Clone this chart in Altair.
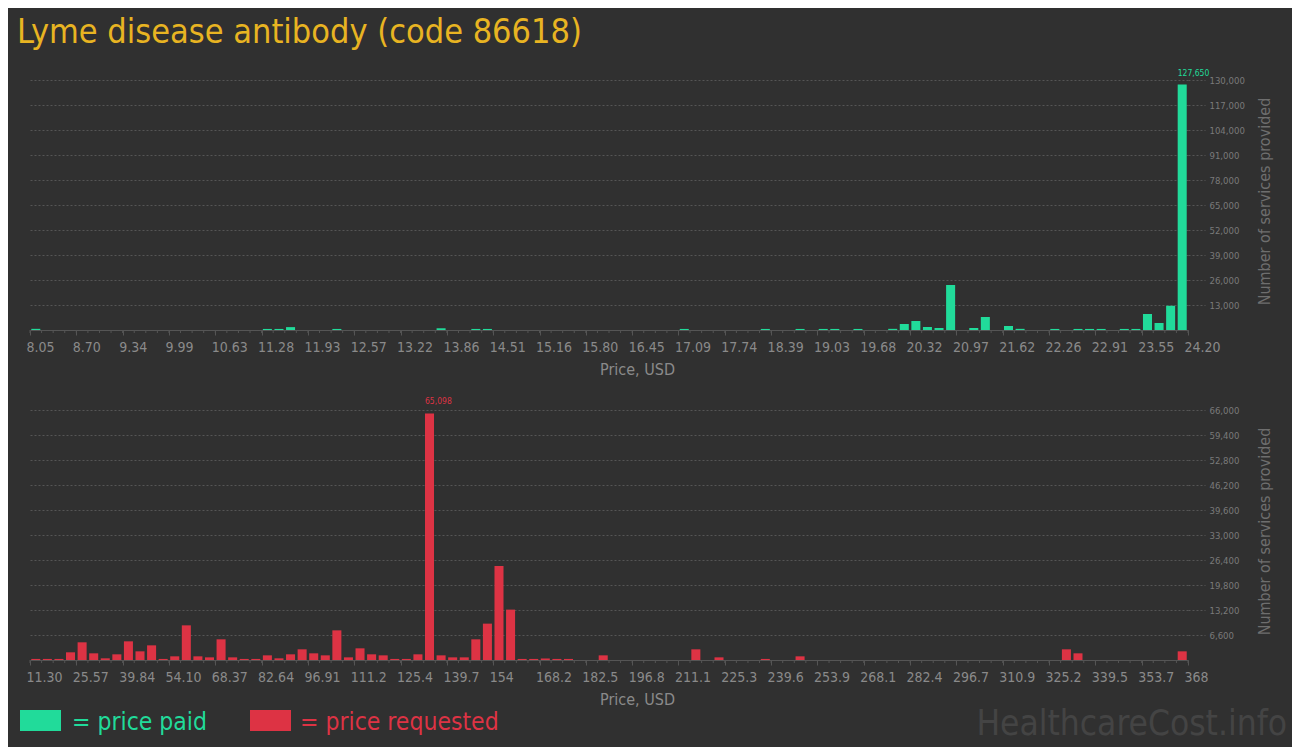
import altair as alt
import pandas as pd

TITLE = "Lyme disease antibody (code 86618)"
X_TITLE = "Price, USD"
Y_TITLE = "Number of services provided"
LEGEND_PAID = "= price paid"
LEGEND_REQ = "= price requested"
WATERMARK = "HealthcareCost.info"

# tick labels (every 4 bins; 100 bins per panel)
paid_labels = ["8.05", "8.70", "9.34", "9.99", "10.63", "11.28", "11.93", "12.57", "13.22",
               "13.86", "14.51", "15.16", "15.80", "16.45", "17.09", "17.74", "18.39",
               "19.03", "19.68", "20.32", "20.97", "21.62", "22.26", "22.91", "23.55", "24.20"]
req_labels = ["11.30", "25.57", "39.84", "54.10", "68.37", "82.64", "96.91", "111.2", "125.4",
              "139.7", "154", "168.2", "182.5", "196.8", "211.1", "225.3", "239.6", "253.9",
              "268.1", "282.4", "296.7", "310.9", "325.2", "339.5", "353.7", "368"]

# price paid histogram (bin index -> number of services)
paid_bins = [0, 20, 21, 22, 26, 35, 38, 39, 56, 63, 66, 68, 69, 71, 74, 75, 76, 77, 78, 79,
             81, 82, 84, 85, 88, 90, 91, 92, 94, 95, 96, 97, 98, 99]
paid_counts = [600, 550, 550, 1500, 550, 900, 550, 550, 550, 550, 550, 550, 550, 550, 600,
               3120, 4680, 1560, 1040, 23400, 1040, 6760, 2080, 600, 550, 550, 550, 550, 550,
               550, 8320, 3640, 12600, 127650]

# price requested histogram
req_bins = [0, 1, 2, 3, 4, 5, 6, 7, 8, 9, 10, 11, 12, 13, 14, 15, 16, 17, 18, 19, 20, 21, 22,
            23, 24, 25, 26, 27, 28, 29, 30, 31, 32, 33, 34, 35, 36, 37, 38, 39, 40, 41, 42, 43,
            44, 45, 46, 49, 57, 59, 63, 66, 89, 90, 99]
req_counts = [280, 280, 280, 2030, 4670, 1760, 440, 1500, 4930, 2290, 3870, 280, 970, 9150,
              970, 700, 5460, 700, 280, 280, 1230, 440, 1500, 2820, 1760, 1230, 7830, 700, 3080,
              1500, 1230, 280, 280, 1500, 65098, 1230, 700, 700, 5460, 9600, 24800, 13300, 280,
              280, 400, 280, 280, 1230, 2820, 700, 280, 970, 2820, 1760, 2290]

paid_ticks = [13000 * k for k in range(1, 11)]
req_ticks = [6600 * k for k in range(1, 11)]

FONT = "Liberation Sans Narrow, Arial Narrow, DejaVu Sans Condensed, sans-serif"
BG = "#303030"
GREEN = "#21db9a"
RED = "#dd3344"
GOLD = "#e8b422"
GRID = "#555555"
AXIS = "#555555"
LABEL = "#8a8a8a"
W, H = 1158, 250


def panel(bins, counts, labels, yticks, color, extras):
    n_bins = (len(labels) - 1) * 4
    df = pd.DataFrame({"bin": bins, "count": counts})
    label_arr = "[" + ",".join("'%s'" % l for l in labels) + "]"
    xscale = alt.Scale(domain=[0, n_bins], nice=False, zero=False)
    xaxis = alt.Axis(
        values=list(range(0, n_bins + 1, 4)),
        labelExpr=label_arr + "[round(datum.value / 4)]",
        title=X_TITLE, titleX=607, titleY=31, titleBaseline="top",
        titleFont=FONT, titleFontSize=16, titleFontWeight="normal", titleColor=LABEL,
        labelFont=FONT, labelFontSize=14, labelColor=LABEL,
        labelAlign="left", labelOffset=-4, labelPadding=5,
        labelOverlap=False, labelFlush=False, labelBound=False,
        tickSize=5, tickColor=AXIS, domainColor=AXIS, grid=False,
    )
    yscale = alt.Scale(domain=[0, yticks[-1]], nice=False)
    yaxis = alt.Axis(
        orient="right", values=yticks, format=",.0f",
        grid=True, gridColor=GRID, gridDash=[2, 2], domain=False,
        tickSize=17, tickColor=GRID, tickDash=[2, 2],
        labelFont=FONT, labelFontSize=9.5, labelColor="#7a7a7a", labelPadding=4,
        labelFlush=False, labelOverlap=False,
        title=Y_TITLE, titleAngle=270, titleX=76, titleY=121,
        titleBaseline="middle", titleAlign="center",
        titleFont=FONT, titleFontSize=16, titleFontWeight="normal", titleColor="#6e6e6e",
    )
    base = alt.Chart(df).transform_calculate(lo="datum.bin + 0.11", hi="datum.bin + 0.89")
    bars = base.mark_bar(color=color).encode(
        x=alt.X("lo:Q", scale=xscale, axis=xaxis),
        x2="hi:Q",
        y=alt.Y("count:Q", scale=yscale, axis=yaxis),
        y2=alt.datum(0),
    )
    peak = base.transform_joinaggregate(mx="max(count)").transform_filter(
        "datum.count == datum.mx"
    ).mark_text(align="left", baseline="alphabetic", dy=-9, font=FONT, fontSize=8.5,
                color=color).encode(
        x=alt.X("lo:Q", scale=xscale, axis=xaxis),
        y=alt.Y("count:Q", scale=yscale, axis=yaxis),
        text=alt.Text("count:Q", format=","),
    )
    minor = alt.Chart(pd.DataFrame({"t": list(range(0, n_bins + 1))})).mark_rule(
        color=AXIS
    ).encode(x=alt.X("t:Q", scale=xscale, axis=xaxis), y=alt.value(H), y2=alt.value(H + 3))
    return alt.layer(bars, minor, peak, *extras).properties(width=W, height=H)


def text_mark(txt, x, y, size, color, align="left", baseline="alphabetic"):
    return alt.Chart(pd.DataFrame({"t": [txt]})).mark_text(
        align=align, baseline=baseline, font=FONT, fontSize=size, color=color
    ).encode(text="t:N", x=alt.value(x), y=alt.value(y))


def swatch(x, color):
    return alt.Chart(pd.DataFrame({"t": [0]})).mark_rect(color=color).encode(
        x=alt.value(x), x2=alt.value(x + 41), y=alt.value(300), y2=alt.value(321)
    )


top = panel(paid_bins, paid_counts, paid_labels, paid_ticks, GREEN,
            [text_mark(TITLE, -13, -64, 34, GOLD, baseline="top")])
bottom = panel(req_bins, req_counts, req_labels, req_ticks, RED, [
    swatch(-10, GREEN), text_mark(LEGEND_PAID, 42, 320, 24.5, GREEN),
    swatch(220, RED), text_mark(LEGEND_REQ, 270, 320, 24.5, RED),
    text_mark(WATERMARK, 1257, 325, 35, "#444444", align="right"),
])

chart = alt.vconcat(top, bottom, spacing=80, bounds="flush").properties(
    background=BG, padding={"left": 9, "top": 8, "right": 5, "bottom": 5}
).configure_view(strokeWidth=0)

chart.save("out.html", embed_options={"renderer": "svg", "actions": False})
